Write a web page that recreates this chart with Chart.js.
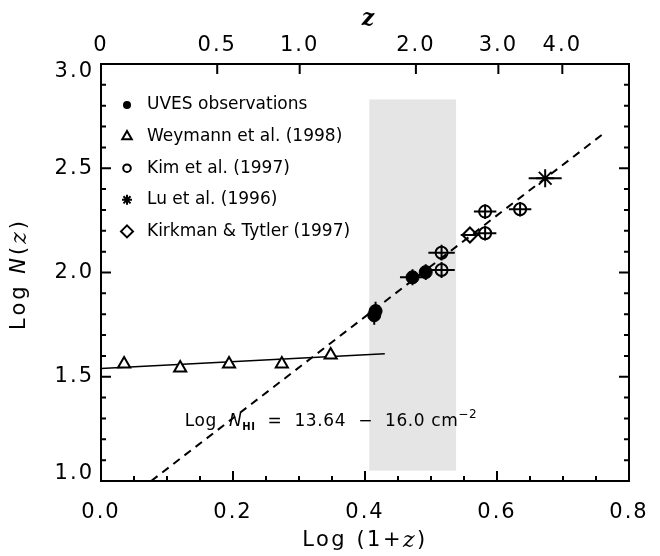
<!DOCTYPE html>
<html>
<head>
<meta charset="utf-8">
<script src="https://cdn.jsdelivr.net/npm/chart.js@4.4.0/dist/chart.umd.min.js"></script>
<style>
  html, body { margin: 0; padding: 0; background: #fff; }
  #wrap { width: 660px; height: 556px; }
</style>
</head>
<body>
<div id="wrap"><canvas id="nzChart" width="660" height="556"></canvas></div>
<script>
// values: x = log(1+z), y = log N(z)
const uvesX = [0.414, 0.416, 0.472, 0.492];
const uvesY = [1.795, 1.815, 1.977, 2.002];
const uvesXErr = [0.004, 0.004, 0.019, 0.008];
const uvesYErr = [0.045, 0.045, 0.038, 0.038];

const weymannX = [0.035, 0.12, 0.194, 0.274, 0.348];
const weymannY = [1.561, 1.542, 1.561, 1.561, 1.604];

const kimX = [0.516, 0.516, 0.582, 0.582, 0.635];
const kimY = [2.012, 2.095, 2.188, 2.292, 2.303];
const kimXErr = [0.02, 0.02, 0.017, 0.017, 0.017];
const kimYErr = [0.038, 0.038, 0.035, 0.035, 0.035];

const luX = [0.673];
const luY = [2.452];
const luXErr = [0.025];
const luYErr = [0.0];

const kirkmanX = [0.559];
const kirkmanY = [2.18];
const kirkmanXErr = [0.014];
const kirkmanYErr = [0.0];

// fits and the shaded UVES redshift range
const lowFitX = [0.0, 0.43];
const lowFitY = [1.54, 1.61];
const highFitX = [0.076, 0.765];
const highFitY = [1.0, 2.675];
const shadeX = [0.4065, 0.538];
const shadeY = [1.05, 2.83];

// axes
const yTickValues = [1.0, 1.5, 2.0, 2.5, 3.0];
const zTicks = [0, 0.5, 1.0, 2.0, 3.0, 4.0];
const zTickLabels = ['0', '0.5', '1.0', '2.0', '3.0', '4.0'];
const legendNames = ['UVES observations', 'Weymann et al. (1998)', 'Kim et al. (1997)', 'Lu et al. (1996)', 'Kirkman & Tytler (1997)'];
const annotX = 0.127, annotY = 1.264;

const SANS = '"DejaVu Sans", sans-serif';
const SERIF = '"DejaVu Serif", serif';

function pts(xs, ys) {
    return xs.map((x, i) => ({ x: x, y: ys[i] }));
}

function markerPath(ctx, style, x, y, r) {
    ctx.beginPath();
    if (style === 'circle') {
        ctx.arc(x, y, r, 0, Math.PI * 2);
    } else if (style === 'triangle') {
        ctx.moveTo(x, y - r);
        ctx.lineTo(x + r * 0.866, y + r * 0.5);
        ctx.lineTo(x - r * 0.866, y + r * 0.5);
        ctx.closePath();
    } else if (style === 'rectRot') {
        ctx.moveTo(x, y - r); ctx.lineTo(x + r, y); ctx.lineTo(x, y + r); ctx.lineTo(x - r, y);
        ctx.closePath();
    } else if (style === 'star') {
        for (let k = 0; k < 4; k++) {
            const a = k * Math.PI / 4;
            ctx.moveTo(x + r * Math.cos(a), y + r * Math.sin(a));
            ctx.lineTo(x - r * Math.cos(a), y - r * Math.sin(a));
        }
    }
}

// draw a run of text pieces with their own fonts / vertical shifts
function drawRich(ctx, parts, x, y, align) {
    let total = 0;
    parts.forEach(p => { ctx.font = p.font; p.w = ctx.measureText(p.t).width; total += p.w; });
    let cx = align === 'center' ? x - total / 2 : x;
    parts.forEach(p => {
        ctx.font = p.font;
        ctx.fillText(p.t, cx, y + (p.dy || 0));
        cx += p.w;
    });
}

const idlAxesPlugin = {
    id: 'idlAxes',
    beforeDraw(chart) {
        chart.ctx.letterSpacing = '2px';
    },
    beforeDatasetsDraw(chart) {
        const { ctx, scales: { x, y } } = chart;
        ctx.save();
        ctx.fillStyle = '#e5e5e5';
        const x0 = x.getPixelForValue(shadeX[0]), x1 = x.getPixelForValue(shadeX[1]);
        const y0 = y.getPixelForValue(shadeY[1]), y1 = y.getPixelForValue(shadeY[0]);
        ctx.fillRect(x0, y0, x1 - x0, y1 - y0);
        ctx.restore();
    },
    afterDatasetsDraw(chart) {
        const { ctx, chartArea: a, scales: { x, y } } = chart;
        ctx.save();
        ctx.letterSpacing = '0px';
        // error bars
        ctx.strokeStyle = '#000';
        ctx.lineWidth = 2;
        chart.data.datasets.forEach(ds => {
            if (!ds.errX) return;
            ds.data.forEach((p, i) => {
                const px = x.getPixelForValue(p.x), py = y.getPixelForValue(p.y);
                ctx.beginPath();
                if (ds.errX[i] > 0) {
                    ctx.moveTo(x.getPixelForValue(p.x - ds.errX[i]), py);
                    ctx.lineTo(x.getPixelForValue(p.x + ds.errX[i]), py);
                }
                if (ds.errY[i] > 0) {
                    ctx.moveTo(px, y.getPixelForValue(p.y - ds.errY[i]));
                    ctx.lineTo(px, y.getPixelForValue(p.y + ds.errY[i]));
                }
                ctx.stroke();
            });
        });

        // frame
        ctx.lineWidth = 2;
        ctx.strokeRect(a.left, a.top, a.right - a.left, a.bottom - a.top);

        // inward tick marks
        ctx.beginPath();
        for (let k = 0; k <= 16; k++) {
            const px = x.getPixelForValue(k * 0.05);
            const len = k % 4 === 0 ? 10 : 5;
            ctx.moveTo(px, a.bottom); ctx.lineTo(px, a.bottom - len);
        }
        zTicks.forEach(z => {
            const px = x.getPixelForValue(Math.log10(1 + z));
            ctx.moveTo(px, a.top); ctx.lineTo(px, a.top + 10);
        });
        for (let k = 0; k <= 20; k++) {
            const py = y.getPixelForValue(1 + k * 0.1);
            const len = k % 5 === 0 ? 10 : 5;
            ctx.moveTo(a.left, py); ctx.lineTo(a.left + len, py);
            ctx.moveTo(a.right, py); ctx.lineTo(a.right - len, py);
        }
        ctx.stroke();
        ctx.restore();
    },
    afterDraw(chart) {
        const { ctx, chartArea: a, scales: { x, y } } = chart;
        ctx.save();
        ctx.fillStyle = '#000';
        ctx.strokeStyle = '#000';

        // y tick labels, kept inside the axis range like the original plot
        ctx.letterSpacing = '2px';
        ctx.font = '21px ' + SANS;
        ctx.textAlign = 'right';
        ctx.textBaseline = 'middle';
        yTickValues.forEach(v => {
            let py = y.getPixelForValue(v);
            py = Math.min(Math.max(py, a.top + 8), a.bottom - 7);
            ctx.fillText(v.toFixed(1), a.left - 7, py);
        });

        // axis titles
        ctx.textAlign = 'left';
        ctx.letterSpacing = '2.5px';
        drawRich(ctx, [
            { t: 'Log (1+', font: '21px ' + SANS },
            { t: 'z', font: 'italic 22px ' + SERIF },
            { t: ')', font: '21px ' + SANS }
        ], (a.left + a.right) / 2, 541, 'center');

        ctx.save();
        ctx.translate(20, 274);
        ctx.rotate(-Math.PI / 2);
        ctx.letterSpacing = '3px';
        drawRich(ctx, [
            { t: 'Log ', font: '21px ' + SANS },
            { t: 'N', font: 'italic 21px ' + SANS },
            { t: '(', font: '21px ' + SANS },
            { t: 'z', font: 'italic 22px ' + SERIF },
            { t: ')', font: '21px ' + SANS }
        ], 0, 0, 'center');
        ctx.restore();

        ctx.letterSpacing = '0px';
        ctx.font = 'italic bold 22px ' + SERIF;
        ctx.textAlign = 'center';
        ctx.fillText('z', (a.left + a.right) / 2 + 3, 19);

        // legend inside the plot
        const legendStyles = [
            { style: 'circle', r: 4, fill: true },
            { style: 'triangle', r: 5.5 },
            { style: 'circle', r: 3.8 },
            { style: 'star', r: 5 },
            { style: 'rectRot', r: 6 }
        ];
        ctx.textAlign = 'left';
        ctx.textBaseline = 'middle';
        ctx.font = '17px ' + SANS;
        legendNames.forEach((name, i) => {
            const ly = 105 + i * 31.6;
            const m = legendStyles[i];
            ctx.lineWidth = 2;
            markerPath(ctx, m.style, 127, ly, m.r);
            if (m.fill) ctx.fill(); else ctx.stroke();
            ctx.fillText(name, 147, ly);
        });

        // fit annotation
        ctx.textBaseline = 'alphabetic';
        ctx.letterSpacing = '0.6px';
        drawRich(ctx, [
            { t: 'Log  ', font: '17px ' + SANS },
            { t: 'N', font: 'italic 17px ' + SANS },
            { t: 'HI', font: 'bold 10px ' + SANS, dy: 4 },
            { t: '  =  13.64  \u2212  16.0 cm', font: '17px ' + SANS },
            { t: '\u22122', font: '12px ' + SANS, dy: -8 }
        ], x.getPixelForValue(annotX), y.getPixelForValue(annotY), 'left');
        ctx.restore();
    }
};

const ctxNz = document.getElementById('nzChart').getContext('2d');
const nzChart = new Chart(ctxNz, {
    type: 'scatter',
    data: {
        datasets: [
            {
                label: legendNames[0],
                data: pts(uvesX, uvesY),
                errX: uvesXErr, errY: uvesYErr,
                pointStyle: 'circle', pointRadius: 6.5,
                backgroundColor: '#000', borderColor: '#000', borderWidth: 1
            },
            {
                label: legendNames[2],
                data: pts(kimX, kimY),
                errX: kimXErr, errY: kimYErr,
                pointStyle: 'circle', pointRadius: 6,
                backgroundColor: 'rgba(0,0,0,0)', borderColor: '#000', borderWidth: 2
            },
            {
                label: legendNames[3],
                data: pts(luX, luY),
                errX: luXErr, errY: luYErr,
                pointStyle: 'star', pointRadius: 9,
                borderColor: '#000', borderWidth: 2
            },
            {
                label: legendNames[4],
                data: pts(kirkmanX, kirkmanY),
                errX: kirkmanXErr, errY: kirkmanYErr,
                pointStyle: 'rectRot', pointRadius: 7.5,
                backgroundColor: 'rgba(0,0,0,0)', borderColor: '#000', borderWidth: 2
            },
            {
                label: legendNames[1],
                data: pts(weymannX, weymannY),
                pointStyle: 'triangle', pointRadius: 7,
                backgroundColor: '#fff', borderColor: '#000', borderWidth: 2
            },
            {
                label: 'low-z fit',
                data: pts(lowFitX, lowFitY),
                showLine: true, pointRadius: 0,
                borderColor: '#000', borderWidth: 1.5
            },
            {
                label: 'power-law fit',
                data: pts(highFitX, highFitY),
                showLine: true, pointRadius: 0,
                borderColor: '#000', borderWidth: 2, borderDash: [8, 6]
            }
        ]
    },
    options: {
        responsive: false,
        animation: false,
        layout: { padding: { left: 0, right: 31, top: 0, bottom: 0 } },
        plugins: {
            legend: { display: false },
            tooltip: { enabled: false }
        },
        scales: {
            x: {
                type: 'linear',
                position: 'bottom',
                min: 0, max: 0.8,
                grid: { display: false },
                border: { display: false },
                ticks: {
                    stepSize: 0.2,
                    color: '#000',
                    font: { family: SANS, size: 21 },
                    padding: 11,
                    maxRotation: 0,
                    autoSkip: false,
                    callback: function(value) { return value.toFixed(1); }
                },
                afterFit: function(scale) { scale.height = 75; }
            },
            xTop: {
                type: 'linear',
                position: 'top',
                min: 0, max: 0.8,
                grid: { display: false, drawTicks: false },
                border: { display: false },
                afterBuildTicks: function(scale) {
                    scale.ticks = zTicks.map(z => ({ value: Math.log10(1 + z) }));
                },
                ticks: {
                    color: '#000',
                    font: { family: SANS, size: 21 },
                    padding: 6,
                    maxRotation: 0,
                    autoSkip: false,
                    callback: function(value, index) { return zTickLabels[index]; }
                },
                afterFit: function(scale) { scale.height = 64; }
            },
            y: {
                type: 'linear',
                min: 1.0, max: 3.0,
                grid: { display: false },
                border: { display: false },
                ticks: { display: false },
                afterFit: function(scale) { scale.width = 101; }
            }
        }
    },
    plugins: [idlAxesPlugin]
});
</script>
</body>
</html>
